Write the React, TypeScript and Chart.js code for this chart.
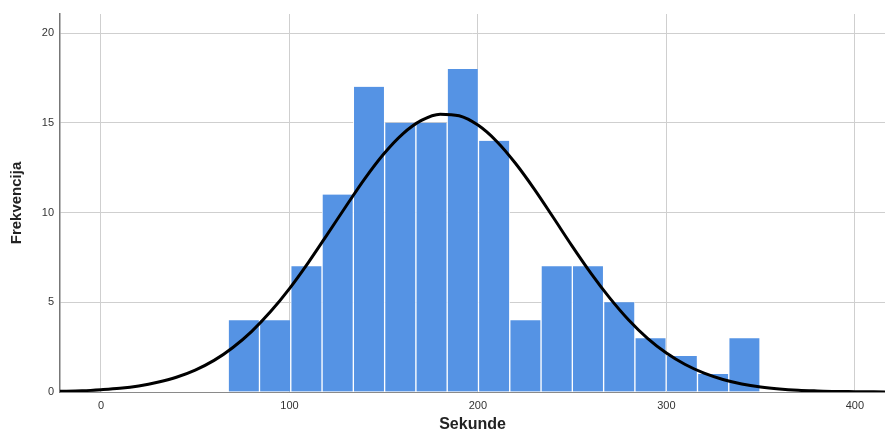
import React, { useEffect, useRef } from "react";
import { Chart, registerables } from "chart.js";

Chart.register(...registerables);

const binCenters = [75.8, 92.4, 109.0, 125.6, 142.2, 158.8, 175.4, 192.0, 208.6, 225.2, 241.8, 258.4, 275.0, 291.6, 308.2, 324.8, 341.4];
const counts = [4, 4, 7, 11, 17, 15, 15, 18, 14, 4, 7, 7, 5, 3, 2, 1, 3];

const curveX = [-30, -20, -10, 0, 10, 20, 30, 40, 50, 60, 70, 80, 90, 100, 110, 120, 130, 140, 150, 160, 170, 180, 190, 200, 210, 220, 230, 240, 250, 260, 270, 280, 290, 300, 310, 320, 330, 340, 350, 360, 370, 380, 390, 400, 410, 420];
const curveY = [0.02, 0.04, 0.07, 0.13, 0.21, 0.34, 0.54, 0.82, 1.22, 1.76, 2.48, 3.38, 4.48, 5.76, 7.21, 8.77, 10.35, 11.89, 13.26, 14.37, 15.13, 15.48, 15.39, 14.87, 13.96, 12.73, 11.29, 9.72, 8.13, 6.61, 5.23, 4.01, 2.99, 2.17, 1.53, 1.05, 0.70, 0.45, 0.28, 0.17, 0.10, 0.06, 0.03, 0.02, 0.01, 0.0];

const xTicks = [0, 100, 200, 300, 400];
const yTicks = [0, 5, 10, 15, 20];

export default function App() {
  const ref = useRef<HTMLCanvasElement>(null);
  useEffect(() => {
    document.body.style.margin = "0";
    const ctx = ref.current!;
    const font = "'Liberation Sans', Arial, sans-serif";
    const chart = new Chart(ctx, {
      data: {
        datasets: [
          {
            type: "line",
            data: curveX.map((x, i) => ({ x, y: curveY[i] })),
            borderColor: "#000000",
            borderWidth: 3,
            pointRadius: 0,
            cubicInterpolationMode: "monotone",
            fill: false,
            order: 0,
          } as any,
          {
            type: "bar",
            data: binCenters.map((x, i) => ({ x, y: counts[i] })),
            backgroundColor: "#5593E4",
            borderColor: "rgba(255,255,255,0.85)",
            borderWidth: { left: 1, right: 1, top: 0, bottom: 0 },
            borderSkipped: false,
            barPercentage: 1,
            categoryPercentage: 1,
            order: 1,
          } as any,
        ],
      },
      options: {
        animation: false,
        responsive: false,
        maintainAspectRatio: false,
        layout: { padding: { top: 14, right: 0, left: 0, bottom: 0 } },
        plugins: { legend: { display: false }, tooltip: { enabled: false } },
        scales: {
          x: {
            type: "linear",
            min: -21.75,
            max: 416,
            offset: false,
            afterBuildTicks: (axis: any) => {
              axis.ticks = xTicks.map((v) => ({ value: v }));
            },
            afterFit: (axis: any) => {
              axis.height = 42;
            },
            grid: { color: "#cfcfcf", lineWidth: 1, drawTicks: false, offset: false },
            border: { color: "#8a8a8a", width: 1 },
            ticks: { color: "#333", font: { family: font, size: 11 }, padding: 7, maxRotation: 0 },
            title: {
              display: true,
              text: "Sekunde",
              color: "#222",
              font: { family: font, size: 16, weight: "bold" },
              padding: { top: 5, bottom: 0 },
            },
          },
          y: {
            type: "linear",
            min: 0,
            max: 21.06,
            afterBuildTicks: (axis: any) => {
              axis.ticks = yTicks.map((v) => ({ value: v }));
            },
            afterFit: (axis: any) => {
              axis.width = 60;
            },
            grid: { color: "#cfcfcf", lineWidth: 1, drawTicks: false },
            border: { color: "#777", width: 1.5 },
            ticks: { color: "#333", font: { family: font, size: 11 }, padding: 6 },
            title: {
              display: true,
              text: "Frekvencija",
              color: "#222",
              font: { family: font, size: 15, weight: "bold" },
              padding: { top: 8, bottom: 0 },
            },
          },
        },
      } as any,
    });
    return () => chart.destroy();
  }, []);
  return (
    <div style={{ width: 885, height: 434 }}>
      <canvas ref={ref} width={885} height={434} style={{ display: "block" }} />
    </div>
  );
}
